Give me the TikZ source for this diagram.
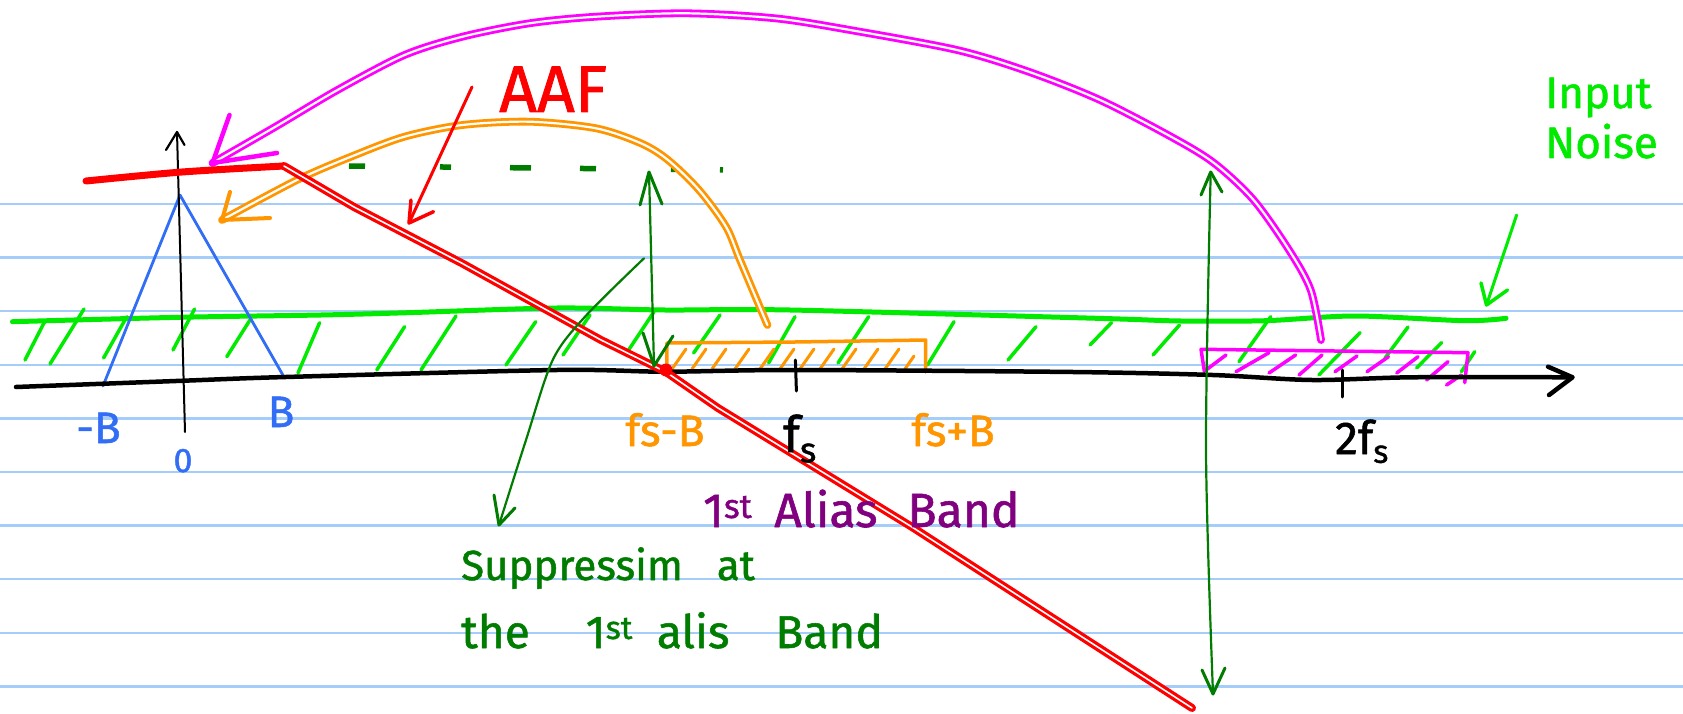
\documentclass[tikz,border=0pt]{standalone}
\usepackage{fontspec}
\setmainfont[FakeBold=1.2]{Fira Sans}
\usetikzlibrary{arrows.meta}
\definecolor{nbline}{RGB}{165,205,250}
\definecolor{bgreen}{RGB}{0,235,0}
\definecolor{dgreen}{RGB}{0,125,0}
\definecolor{orng}{RGB}{255,150,0}
\definecolor{mgnt}{RGB}{255,0,255}
\definecolor{rd}{RGB}{255,0,0}
\definecolor{blu}{RGB}{50,110,245}
\definecolor{purp}{RGB}{128,0,128}
\newcommand\fsz[1]{\fontsize{#1}{#1}\selectfont}
\begin{document}
\begin{tikzpicture}[x=1pt,y=-1pt,line cap=round,line join=round,
  rule/.style={nbline,line width=2.5pt},
  ghatch/.style={bgreen,line width=3.5pt},
  ohatch/.style={orng,line width=3pt},
  mhatch/.style={mgnt,line width=3.5pt},
  txt/.style={inner sep=0pt,anchor=base west},
  ctxt/.style={inner sep=0pt,anchor=base},
  dline/.style={double=white,double distance=2.2pt,line width=2.8pt},
  dgarrow/.style={dgreen,line width=2.2pt},
  barb/.style={line width=3pt}]
\useasboundingbox (0,0) rectangle (1683,714);
\fill[white] (0,0) rectangle (1683,714);
% notebook rules
\foreach \k in {0,...,9} \draw[rule] (0,{204+53.6*\k}) -- (1683,{204+53.6*\k});

% input noise band
\draw[bgreen,line width=5pt] plot[smooth] coordinates {(12.5,321.7) (178.6,317.3) (321,315) (408,312.7) (557,308) (665,310) (790,310) (1097,318.3) (1181,321) (1265.7,320.7) (1355,316) (1464.7,320.7) (1506,318.3)};
\foreach \a/\b/\c/\d in {25/360/44.6/321.7, 50/364/84/309, 103.6/358/126.8/316.7, 173/350/194.6/309, 226.8/356.7/250/320, 298/373/319.6/322.7, 376.8/370/404.6/326.7, 421/370/456/316, 506/365/535.7/321.7, 563/355/590/315, 627.5/351.7/654/311.7, 693.6/353/720/315, 768.6/363/795/316.7, 838/363/868.6/316.7, 927.5/365/954/321.7, 1008/360/1036/326.7, 1090/345/1111.5/322.7, 1153/355/1179.5/325, 1239/361.7/1270.7/316.7, 1318.8/375/1360/332.7, 1385/358/1408/327, 1416.6/368/1441.5/342.7, 1461.4/371.7/1474.7/351.7}
  \draw[ghatch] (\a,\b) -- (\c,\d);

% orange first alias band
\draw[orng,line width=3.5pt] (666.8,370) -- (666.8,343) -- (795,342) -- (925.7,340) -- (925.7,372);
\foreach \x in {672,692,712,735,760,780,800,820,842,864,885}
  \draw[ohatch] (\x,369) -- ++(14,-20);
\draw[ohatch] (905,369) -- ++(9,-13);

% magenta band
\draw[mgnt,line width=3.5pt] (1204.4,371.7) -- (1201,349.3) -- (1468,352.7) -- (1464.7,382.7);
\foreach \a/\b/\c/\d in {1206/370/1226/355, 1236/371.7/1269/352.7, 1269/373/1295.6/355, 1299/375/1322/355, 1335/371.7/1357/356, 1367/371.7/1388.5/356.7, 1396.7/373/1418/356.7, 1426.6/380/1448/361.7, 1446.5/385/1461.4/375}
  \draw[mhatch] (\a,\b) -- (\c,\d);

% blue spectrum
\coordinate (bl) at (103,386);
\coordinate (bp) at (180,195);
\coordinate (br) at (284,377);
\draw[blu,line width=2.8pt] (bl) -- (bp) -- (br);

% frequency axis
\coordinate (ax0) at (16,387);
\coordinate (axtip) at (1572.5,377.3);
\draw[black,line width=4.5pt] plot[smooth] coordinates {(16,387) (184,380.7) (285.7,377) (557,370) (665,371.7) (794,370) (1073,372) (1212.7,375) (1312,380) (1411.7,377.3) (1572,377.3)};
\draw[black,barb,line width=4.5pt] (1548,366.7) -- (axtip) -- (1549,395);
% ticks
\draw[black,line width=3pt] (795.4,360) -- (796.4,391);
\draw[black,line width=3pt] (1342,370) -- (1342,397);
% vertical axis
\coordinate (yb) at (185,432);
\coordinate (yt) at (177,132);
\draw[black,line width=2pt] (yb) -- (yt);
\draw[black,line width=2.2pt] (166,150) -- (yt) -- (184.5,145);

% dark green dashed level
\draw[dgreen,line width=5.5pt,line cap=butt,dash pattern=on 16pt off 75pt on 11pt off 59pt on 21pt off 49pt on 16pt off 75pt on 11pt off 38pt on 3pt off 20pt] (349,166) -- (724,170);

% orange arc
\coordinate (otip) at (222,220);
\draw[orng,dline] plot[smooth] coordinates {(767.4,325) (740,260) (726,226.7) (699,190) (668,160) (641,143.3) (596,128.3) (529.5,121.7) (462.5,125) (404.5,136.7) (351,156.7) (297,180) (otip)};
\draw[orng,barb,line width=4pt] (230,192) -- (otip) -- (270,218);

% magenta arc
\coordinate (mtip) at (212.5,163);
\draw[mgnt,dline] plot[smooth] coordinates {(1321,340) (1310.7,290) (1289,250) (1253.6,200) (1214,163) (1171,136.7) (1100,100) (1028.6,71.7) (957,50) (850,30) (775,18.3) (685.7,13.3) (596,16.7) (529.5,23.3) (462.5,36.7) (404.5,55) (337.5,90) (275,127) (mtip)};
\draw[mgnt,barb,line width=4.5pt] (229.5,115) -- (mtip) -- (277,153);

% AAF red response
\draw[rd,line width=7pt] plot[smooth] coordinates {(86,181) (182,172) (284,166)};
\draw[rd,double=white,double distance=1.6pt,line width=3.2pt] (284,166) -- (354,207) -- (461.5,263) -- (601,340) -- (666,372) -- (718,408) -- (912,527) -- (1192,708);
\fill[rd] (666,370) circle (6.5);

% AAF label and arrow
\node[txt,rd,font=\fsz{66}] (aaf) at (499,112) {AAF};
\coordinate (atail) at (472,87);
\coordinate (atip) at (409,223);
\draw[rd,line width=3pt] (atail) -- (atip);
\draw[rd,barb,line width=3.5pt] (411,200) -- (atip) -- (433.5,211.7);

% dark green double arrows
\coordinate (d1t) at (649,172);
\coordinate (d1b) at (654,366);
\draw[dgarrow] (d1t) -- (d1b);
\draw[dgreen,barb] (640,205) -- (d1t) -- (662,204);
\draw[dgreen,barb] (643,333) -- (d1b) -- (673,336);
\coordinate (d2t) at (1210.7,172);
\coordinate (d2b) at (1213,694);
\draw[dgarrow] plot[smooth] coordinates {(d2t) (1206,450) (d2b)};
\draw[dgreen,barb] (1201,195) -- (d2t) -- (1222,192);
\draw[dgreen,barb] (1202,670) -- (d2b) -- (1225,668);

% suppression arrow
\coordinate (stail) at (644,258.3);
\coordinate (stip) at (499,525);
\draw[dgarrow] plot[smooth] coordinates {(stail) (585,316.7) (552.7,360) (526,440) (stip)};
\draw[dgreen,barb] (494,495) -- (stip) -- (515,508);

% input noise arrow
\coordinate (ntail) at (1516.6,215);
\coordinate (ntip) at (1486.5,305);
\draw[bgreen,line width=3pt] (ntail) -- (ntip);
\draw[bgreen,barb,line width=3.5pt] (1481,283) -- (ntip) -- (1507.5,290);

% labels
\node[txt,bgreen,font=\fontsize{44}{50}\selectfont,align=left] (noise) at (1545,158) {Input\\Noise};
\node[ctxt,blu,font=\fsz{44}] (mb) at (98.5,443) {-B};
\node[ctxt,blu,font=\fsz{44}] (pb) at (281,427) {B};
\node[ctxt,blu,font=\fsz{34}] (zero) at (183,472) {0};
\node[ctxt,orng,font=\fsz{44}] (fsmb) at (665,446) {fs-B};
\node[ctxt,orng,font=\fsz{44}] (fspb) at (953,446) {fs+B};
\node[ctxt,black,font=\fsz{50}] (fs) at (800,452) {f\textsubscript{s}};
\node[ctxt,black,font=\fsz{46}] (tfs) at (1362,454) {2f\textsubscript{s}};
\node[txt,purp,font=\fsz{48}] (alias) at (703,527) {1\textsuperscript{st}\hspace{22pt}Alias\hspace{30pt}Band};
\node[txt,dgreen,font=\fsz{42}] (supp1) at (461,580) {Suppressim\hspace{34pt}at};
\node[txt,dgreen,font=\fsz{46}] (supp2) at (461,648) {the\hspace{56pt}1\textsuperscript{st}\hspace{24pt}alis\hspace{46pt}Band};
\end{tikzpicture}
\end{document}
